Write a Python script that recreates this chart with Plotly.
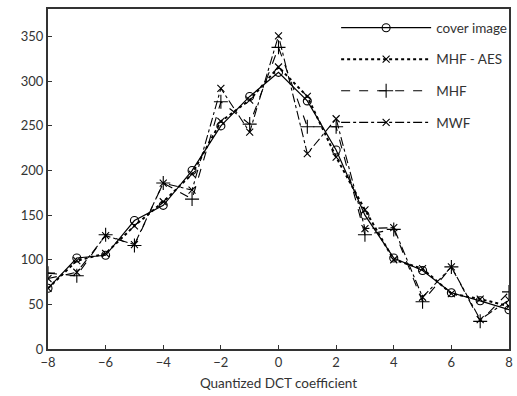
import plotly.graph_objects as go

x = list(range(-8, 9))
cover = [68, 102, 105, 144, 161, 200, 250, 283, 310, 278, 223, 150, 102, 88, 63, 54, 44]
mhf_aes = [68, 99, 107, 138, 165, 196, 255, 279, 316, 283, 215, 156, 100, 90, 62, 56, 48]
mhf = [85, 82, 128, 116, 186, 168, 277, 252, 338, 249, 249, 128, 134, 53, 92, 31, 64]
mwf = [79, 86, 127, 117, 186, 178, 292, 243, 351, 219, 258, 135, 136, 58, 92, 33, 55]

names = ["cover image", "MHF - AES", "MHF", "MWF"]
series = [cover, mhf_aes, mhf, mwf]
dashes = ["solid", "dot", "dash", "dashdot"]
symbols = ["circle-open", "x-thin-open", "cross-thin-open", "x-thin-open"]
sizes = [8, 7, 10, 7]
widths = [1.2, 2, 1.1, 1.1]

fig = go.Figure()
for n, s, d, sym, sz, w in zip(names, series, dashes, symbols, sizes, widths):
    fig.add_trace(go.Scatter(
        x=x, y=s, name=n, mode="lines+markers", legendgroup=n,
        line=dict(color="black", width=w, dash=d),
        marker=dict(symbol=sym, size=sz, color="black",
                    line=dict(color="black", width=1.1)),
    ))

fig.update_layout(
    width=517, height=396,
    margin=dict(l=48, r=5, t=9, b=47),
    plot_bgcolor="white", paper_bgcolor="white",
    font=dict(family="Lato", size=13, color="#333"),
    showlegend=True,
    legend=dict(x=0.625, y=0.99, xanchor="left", yanchor="top",
                bgcolor="rgba(0,0,0,0)", itemwidth=90,
                tracegroupgap=11, traceorder="grouped",
                font=dict(size=13.5)),
    xaxis=dict(range=[-8, 8], tickvals=list(range(-8, 9, 2)),
               showgrid=False, zeroline=False, showline=True,
               linecolor="#333", linewidth=2, mirror=True,
               ticks="inside", ticklen=4, tickcolor="#333",
               title=dict(text="Quantized DCT coefficient", standoff=10,
                          font=dict(size=13.5))),
    yaxis=dict(range=[0, 381], tickvals=list(range(0, 351, 50)),
               showgrid=False, zeroline=False, showline=True,
               linecolor="#333", linewidth=2, mirror=True,
               ticks="inside", ticklen=4, tickcolor="#333"),
)

fig.write_html("out.html")
